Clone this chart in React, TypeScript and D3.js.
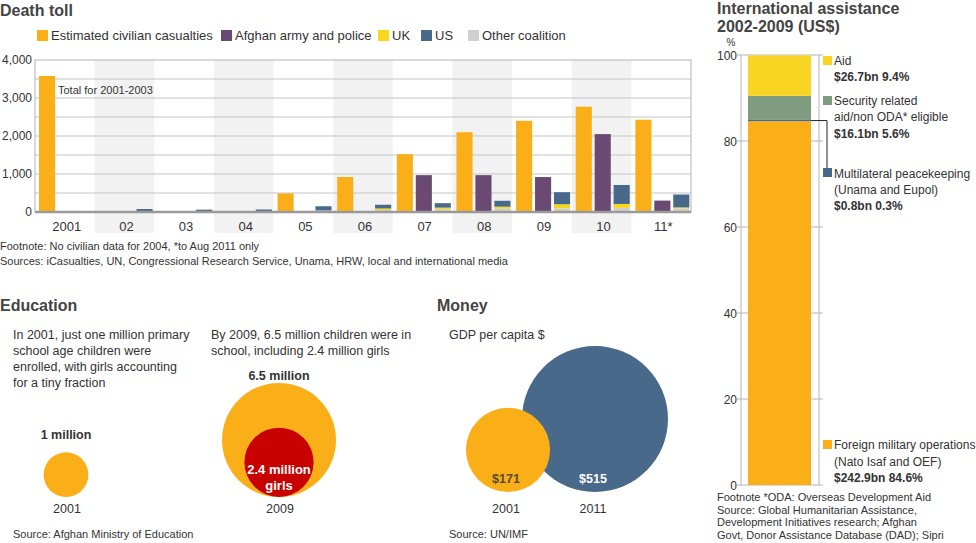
import React from "react";
import * as d3 from "d3";

const years = ["2001", "02", "03", "04", "05", "06", "07", "08", "09", "10", "11*"];
const civilian = [3580, 0, 0, 0, 490, 920, 1520, 2100, 2400, 2770, 2430];
const afghan = [0, 0, 0, 0, 0, 0, 970, 970, 920, 2050, 300];
const ukDeaths = [0, 3, 0, 1, 1, 39, 42, 51, 108, 103, 25];
const usDeaths = [12, 55, 50, 55, 110, 98, 117, 155, 317, 499, 340];
const otherDeaths = [0, 20, 12, 10, 40, 54, 73, 89, 96, 109, 95];
const deathTicks = [0, 1000, 2000, 3000, 4000];
const deathGrid = [500, 1000, 1500, 2000, 2500, 3000, 3500];

const legendItems = [
  { label: "Estimated civilian casualties", color: "#FAAF19", x: 37 },
  { label: "Afghan army and police", color: "#6A4A72", x: 221 },
  { label: "UK", color: "#F7D81E", x: 378 },
  { label: "US", color: "#48698A", x: 421 },
  { label: "Other coalition", color: "#CFCFCF", x: 468 },
];

const eduYears = ["2001", "2009"];
const eduValues = [1, 6.5];
const eduLabels = ["1 million", "6.5 million"];
const girls2009 = 2.4;

const gdpYears = ["2001", "2011"];
const gdpValues = [171, 515];
const gdpLabels = ["$171", "$515"];

const aidNames = ["Foreign military operations", "Multilateral peacekeeping", "Security related", "Aid"];
const aidPct = [84.6, 0.3, 5.6, 9.4];
const aidColors = ["#FAAF19", "#48698A", "#7F9C80", "#F8D522"];
const aidTicks = [0, 20, 40, 60, 80, 100];

const FONT = "'Liberation Sans', Arial, Helvetica, sans-serif";
const TXT = "#333";

export default function App() {
  // Death toll scales
  const x = d3.scaleBand<string>().domain(years).range([35, 691]).padding(0);
  const sub = d3.scaleBand<string>().domain(["civ", "afg", "coal"]).range([4, 58]).paddingInner(0.15);
  const y = d3.scaleLinear().domain([0, 4000]).range([212, 60]);

  const stackData = years.map((yr, i) => ({ year: yr, other: otherDeaths[i], uk: ukDeaths[i], us: usDeaths[i] }));
  const stack = d3.stack<any>().keys(["other", "uk", "us"])(stackData);
  const stackColors: Record<string, string> = { other: "#CFCFCF", uk: "#F7D81E", us: "#48698A" };

  // Education
  const rEdu = d3.scaleSqrt().domain([0, 6.5]).range([0, 57]);
  const eduX = [66, 279];
  const eduBottom = 497;
  const eduLabelY = [439, 380];

  // Money
  const rGdp = d3.scaleSqrt().domain([0, 515]).range([0, 73]);
  const gdpX = [508, 595];
  const gdpBottom = 492;

  // Assistance
  const ya = d3.scaleLinear().domain([0, 100]).range([485, 55]);
  let cum = 0;
  const aidSegs = aidPct.map((p, i) => {
    const s = { y0: cum, y1: cum + p, color: aidColors[i], name: aidNames[i] };
    cum += p;
    return s;
  });
  const multiMid = ya((aidSegs[1].y0 + aidSegs[1].y1) / 2);

  return (
    <svg width={976} height={543} style={{ position: "absolute", left: 0, top: 0, background: "#fff" }} fontFamily={FONT}>
      {/* ===== Death toll ===== */}
      <text x={0} y={16} fontSize={16} fontWeight="bold" fill="#444">Death toll</text>
      {legendItems.map((d) => (
        <g key={d.label}>
          <rect x={d.x} y={30} width={11} height={11} fill={d.color} />
          <text x={d.x + 14} y={40} fontSize={13} fill={TXT}>{d.label}</text>
        </g>
      ))}
      {years.map((yr, i) =>
        i % 2 === 1 ? (
          <rect key={"sh" + yr} x={x(yr)!} y={60} width={x.bandwidth()} height={173} fill="#F2F2F2" />
        ) : null
      )}
      {deathGrid.map((v) => (
        <line key={"g" + v} x1={35} x2={691} y1={y(v)} y2={y(v)} stroke="#C4C4C4" strokeWidth={1} />
      ))}
      <rect x={35} y={60} width={656} height={152} fill="none" stroke="#B4B4B4" strokeWidth={1} />
      {deathTicks.map((v) => (
        <text key={"t" + v} x={32} y={y(v) + 4} fontSize={12} textAnchor="end" fill={TXT}>
          {d3.format(",")(v)}
        </text>
      ))}
      {years.map((yr, i) => (
        <g key={"b" + yr}>
          {civilian[i] > 0 && (
            <rect x={x(yr)! + sub("civ")!} y={y(civilian[i])} width={sub.bandwidth()} height={y(0) - y(civilian[i])} fill="#FAAF19" />
          )}
          {afghan[i] > 0 && (
            <rect x={x(yr)! + sub("afg")!} y={y(afghan[i])} width={sub.bandwidth()} height={y(0) - y(afghan[i])} fill="#6A4A72" />
          )}
        </g>
      ))}
      {stack.map((layer) =>
        layer.map((seg, i) => (
          <rect
            key={layer.key + i}
            x={x(years[i])! + sub("coal")!}
            y={y(seg[1])}
            width={sub.bandwidth()}
            height={Math.max(0, y(seg[0]) - y(seg[1]))}
            fill={stackColors[layer.key]}
          />
        ))
      )}
      <line x1={35} x2={691} y1={212} y2={212} stroke="#9A9A9A" strokeWidth={2.5} />
      {years.map((yr) => (
        <text key={"xl" + yr} x={x(yr)! + x.bandwidth() / 2 + 2} y={231} fontSize={13} textAnchor="middle" fill={TXT}>
          {yr}
        </text>
      ))}
      <text x={58} y={94} fontSize={11} fill={TXT}>Total for 2001-2003</text>
      <text x={0} y={250} fontSize={11} fill={TXT}>Footnote: No civilian data for 2004, *to Aug 2011 only</text>
      <text x={0} y={265} fontSize={11} fill={TXT}>Sources: iCasualties, UN, Congressional Research Service, Unama, HRW, local and international media</text>

      {/* ===== Education ===== */}
      <text x={0} y={311} fontSize={16} fontWeight="bold" fill="#444">Education</text>
      {["In 2001, just one million primary", "school age children were", "enrolled, with girls accounting", "for a tiny fraction"].map((t, i) => (
        <text key={"e1" + i} x={13} y={339 + i * 16} fontSize={12.5} fill={TXT}>{t}</text>
      ))}
      {["By 2009, 6.5 million children were in", "school, including 2.4 million girls"].map((t, i) => (
        <text key={"e2" + i} x={211} y={339 + i * 16} fontSize={12.5} fill={TXT}>{t}</text>
      ))}
      {eduValues.map((v, i) => (
        <g key={"edu" + i}>
          <circle cx={eduX[i]} cy={eduBottom - rEdu(v)} r={rEdu(v)} fill="#FAAF19" />
          <text x={eduX[i]} y={eduLabelY[i]} fontSize={12.5} fontWeight="bold" textAnchor="middle" fill={TXT}>
            {eduLabels[i]}
          </text>
          <text x={eduX[i] + 1} y={513} fontSize={12.5} textAnchor="middle" fill={TXT}>{eduYears[i]}</text>
        </g>
      ))}
      <circle cx={eduX[1]} cy={eduBottom - rEdu(girls2009)} r={rEdu(girls2009)} fill="#C80000" />
      <text x={eduX[1]} y={474} fontSize={13} fontWeight="bold" textAnchor="middle" fill="#fff">2.4 million</text>
      <text x={eduX[1]} y={490} fontSize={13} fontWeight="bold" textAnchor="middle" fill="#fff">girls</text>
      <text x={13} y={538} fontSize={11} fill={TXT}>Source: Afghan Ministry of Education</text>

      {/* ===== Money ===== */}
      <text x={437} y={311} fontSize={16} fontWeight="bold" fill="#444">Money</text>
      <text x={449} y={339} fontSize={12.5} fill={TXT}>GDP per capita $</text>
      {[1, 0].map((i) => (
        <circle key={"gdp" + i} cx={gdpX[i]} cy={gdpBottom - rGdp(gdpValues[i])} r={rGdp(gdpValues[i])} fill={i === 0 ? "#FAAF19" : "#48698A"} />
      ))}
      {gdpValues.map((v, i) => (
        <g key={"gl" + i}>
          <text x={gdpX[i] - 2} y={483} fontSize={12.5} fontWeight="bold" textAnchor="middle" fill={i === 0 ? "#5A4A2A" : "#fff"}>
            {gdpLabels[i]}
          </text>
          <text x={gdpX[i] - 2} y={513} fontSize={12.5} textAnchor="middle" fill={TXT}>{gdpYears[i]}</text>
        </g>
      ))}
      <text x={449} y={538} fontSize={11} fill={TXT}>Source: UN/IMF</text>

      {/* ===== International assistance ===== */}
      <text x={717} y={14} fontSize={16} fontWeight="bold" fill="#444">International assistance</text>
      <text x={717} y={32} fontSize={16} fontWeight="bold" fill="#444">2002-2009 (US$)</text>
      <text x={731} y={46} fontSize={10} textAnchor="middle" fill={TXT}>%</text>
      {aidTicks.map((v) => (
        <g key={"at" + v}>
          <line x1={737} x2={823} y1={ya(v)} y2={ya(v)} stroke="#B4B4B4" strokeWidth={1} />
          <text x={737} y={ya(v) + 4.5} fontSize={12} textAnchor="end" fill={TXT}>{v}</text>
        </g>
      ))}
      <line x1={741} x2={741} y1={ya(100)} y2={ya(0)} stroke="#B4B4B4" />
      <line x1={819} x2={819} y1={ya(100)} y2={ya(0)} stroke="#B4B4B4" />
      {aidSegs.map((s) => (
        <rect key={s.name} x={748} y={ya(s.y1)} width={63} height={ya(s.y0) - ya(s.y1)} fill={s.color} />
      ))}
      <path d={`M811,${multiMid}H827V168`} fill="none" stroke="#222" strokeWidth={1} />
      {/* labels */}
      <rect x={823} y={56} width={9} height={9} fill={aidColors[3]} />
      <text x={834} y={65} fontSize={12} fill={TXT}>Aid</text>
      <text x={834} y={81} fontSize={12} fontWeight="bold" fill={TXT}>$26.7bn 9.4%</text>

      <rect x={823} y={96} width={9} height={9} fill={aidColors[2]} />
      <text x={834} y={105} fontSize={12} fill={TXT}>Security related</text>
      <text x={834} y={121} fontSize={12} fill={TXT}>aid/non ODA* eligible</text>
      <text x={834} y={138} fontSize={12} fontWeight="bold" fill={TXT}>$16.1bn 5.6%</text>

      <rect x={823} y={168} width={9} height={9} fill={aidColors[1]} />
      <text x={834} y={178} fontSize={12} fill={TXT}>Multilateral peacekeeping</text>
      <text x={834} y={194} fontSize={12} fill={TXT}>(Unama and Eupol)</text>
      <text x={834} y={210} fontSize={12} fontWeight="bold" fill={TXT}>$0.8bn 0.3%</text>

      <rect x={823} y={440} width={9} height={9} fill={aidColors[0]} />
      <text x={834} y={449} fontSize={12} fill={TXT}>Foreign military operations</text>
      <text x={834} y={466} fontSize={12} fill={TXT}>(Nato Isaf and OEF)</text>
      <text x={834} y={482} fontSize={12} fontWeight="bold" fill={TXT}>$242.9bn 84.6%</text>

      {["Footnote *ODA: Overseas Development Aid", "Source: Global Humanitarian Assistance,", "Development Initiatives research; Afghan", "Govt, Donor Assistance Database (DAD); Sipri"].map((t, i) => (
        <text key={"af" + i} x={717} y={501 + i * 12.7} fontSize={11} fill={TXT}>{t}</text>
      ))}
    </svg>
  );
}
